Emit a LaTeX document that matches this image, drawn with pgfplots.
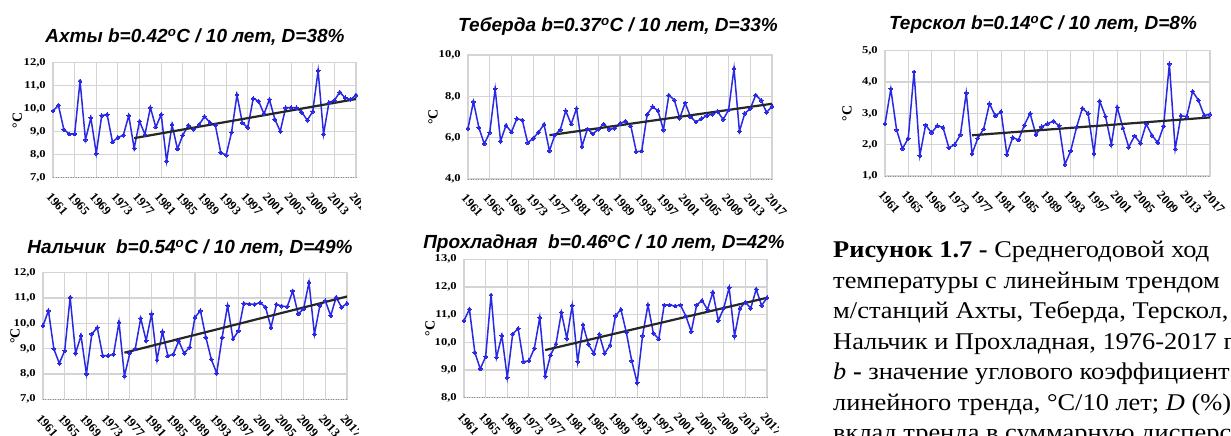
\documentclass[border=0pt]{standalone}
\usepackage{fontspec}
\setmainfont{Liberation Serif}
\newfontfamily\titlefont{Liberation Sans}
\usepackage{pgfplots}
\pgfplotsset{compat=1.18}

\definecolor{serblue}{RGB}{40,40,230}
\definecolor{gridgray}{RGB}{212,212,212}

\tikzset{baseline dots/.style={black!45, line width=0.9pt, dash pattern=on 1pt off 1.5pt}}

\pgfplotsset{
  panel/.style={
    scale only axis,
    xmin=1961, xmax=2017,
    xtick={1961,1965,...,2017},
    grid=major,
    major grid style={draw=gridgray, line width=1.1pt},
    axis line style={draw=gridgray, line width=1.1pt},
    major tick length=0pt,
    /pgf/number format/assume math mode=true,
    xticklabel style={font=\bfseries\fontsize{12.5}{12.5}\selectfont, xshift=-1pt, yshift=-14pt, rotate=-48, anchor=north west, inner sep=0pt, /pgf/number format/1000 sep={}},
    yticklabel style={font=\bfseries\fontsize{10.5}{10.5}\selectfont, inner sep=0pt, xshift=-7pt, xscale=1.2, /pgf/number format/.cd, fixed, fixed zerofill, precision=1, use comma},
    ylabel={°C},
    every axis y label/.style={font=\bfseries\fontsize{14}{14}\selectfont, rotate=90, anchor=center},
    clip=false,
  },
  series/.style={serblue, line width=1.5pt, mark=*, mark size=1.9pt, mark options={fill=serblue, draw=serblue, line width=0pt}},
  trend/.style={black!85, line width=2.2pt},
}

\newcommand{\ttl}{\titlefont\bfseries\itshape\fontsize{19}{19}\selectfont}

\begin{document}
\begin{tikzpicture}
\useasboundingbox (0,0) rectangle (1231pt,436pt);
\clip (0,0) rectangle (1231pt,436pt);
\fill[white] (0,0) rectangle (1231pt,436pt);

% ---------------- Ахты ----------------
\begin{scope}
\clip (0,205pt) rectangle (360pt,436pt);
\begin{axis}[panel, at={(53pt,258.3pt)}, anchor=south west, width=303pt, height=115pt,
  ymin=7, ymax=12, ytick={7,8,...,12},
  ylabel style={at={(axis description cs:-0.118,0.5)}}]
\draw[baseline dots] (rel axis cs:0,0) -- (rel axis cs:1,0);
\addplot[series] coordinates {
(1961,9.9) (1962,10.15) (1963,9.1) (1964,8.9) (1965,8.9) (1966,11.2) (1967,8.65) (1968,9.6)
(1969,8.05) (1970,9.7) (1971,9.75) (1972,8.55) (1973,8.75) (1974,8.85) (1975,9.7) (1976,8.28)
(1977,9.45) (1978,8.88) (1979,10.05) (1980,9.2) (1981,9.75) (1982,7.72) (1983,9.3) (1984,8.25)
(1985,8.85) (1986,9.28) (1987,9.1) (1988,9.3) (1989,9.66) (1990,9.4) (1991,9.28) (1992,8.1)
(1993,7.98) (1994,8.97) (1995,10.6) (1996,9.38) (1997,9.18) (1998,10.44) (1999,10.33) (2000,9.77)
(2001,10.4) (2002,9.54) (2003,9.02) (2004,10.04) (2005,10.05) (2006,10.04) (2007,9.84) (2008,9.5)
(2009,9.88) (2010,11.65) (2011,8.89) (2012,10.27) (2013,10.36) (2014,10.72) (2015,10.47) (2016,10.4)
(2017,10.59)};
\addplot[trend] coordinates {(1976,8.72) (2017,10.42)};
\end{axis}
\end{scope}
\node[font=\ttl] at (195pt,399pt) {Ахты b=0.42\textsuperscript{o}C / 10 лет, D=38\%};

% ---------------- Теберда ----------------
\begin{scope}
\clip (380pt,205pt) rectangle (800pt,436pt);
\begin{axis}[panel, at={(468pt,257pt)}, anchor=south west, width=304pt, height=124pt,
  ymin=4, ymax=10, ytick={4,6,8,10},
  ylabel style={at={(axis description cs:-0.115,0.5)}}]
\draw[baseline dots] (rel axis cs:0,0) -- (rel axis cs:1,0);
\addplot[series] coordinates {
(1961,6.45) (1962,7.74) (1963,6.49) (1964,5.7) (1965,6.25) (1966,8.36) (1967,5.83) (1968,6.6)
(1969,6.27) (1970,6.92) (1971,6.85) (1972,5.75) (1973,5.97) (1974,6.26) (1975,6.65) (1976,5.36)
(1977,6.13) (1978,6.38) (1979,7.3) (1980,6.66) (1981,7.41) (1982,5.58) (1983,6.42) (1984,6.18)
(1985,6.41) (1986,6.66) (1987,6.4) (1988,6.46) (1989,6.68) (1990,6.8) (1991,6.56) (1992,5.32)
(1993,5.35) (1994,7.12) (1995,7.5) (1996,7.3) (1997,6.38) (1998,8.06) (1999,7.82) (2000,6.94)
(2001,7.68) (2002,7.0) (2003,6.76) (2004,6.92) (2005,7.06) (2006,7.14) (2007,7.26) (2008,6.88)
(2009,7.34) (2010,9.35) (2011,6.31) (2012,7.18) (2013,7.4) (2014,8.06) (2015,7.81) (2016,7.22)
(2017,7.52)};
\addplot[trend] coordinates {(1976,6.12) (2017,7.64)};
\end{axis}
\end{scope}
\node[font=\ttl] at (618pt,409pt) {Теберда b=0.37\textsuperscript{o}C / 10 лет, D=33\%};

% ---------------- Терскол ----------------
\begin{scope}
\clip (800pt,205pt) rectangle (1231pt,436pt);
\begin{axis}[panel, at={(885pt,260pt)}, anchor=south west, width=325pt, height=125.3pt,
  ymin=1, ymax=5, ytick={1,2,...,5},
  ylabel style={at={(axis description cs:-0.117,0.5)}}]
\draw[baseline dots] (rel axis cs:0,0) -- (rel axis cs:1,0);
\addplot[series] coordinates {
(1961,2.66) (1962,3.78) (1963,2.47) (1964,1.87) (1965,2.2) (1966,4.32) (1967,1.65) (1968,2.63)
(1969,2.38) (1970,2.6) (1971,2.55) (1972,1.9) (1973,2.0) (1974,2.32) (1975,3.65) (1976,1.71)
(1977,2.21) (1978,2.5) (1979,3.31) (1980,2.92) (1981,3.05) (1982,1.69) (1983,2.23) (1984,2.15)
(1985,2.62) (1986,3.0) (1987,2.32) (1988,2.57) (1989,2.67) (1990,2.75) (1991,2.6) (1992,1.37)
(1993,1.8) (1994,2.55) (1995,3.16) (1996,3.0) (1997,1.72) (1998,3.39) (1999,2.9) (2000,2.0)
(2001,3.2) (2002,2.53) (2003,1.92) (2004,2.28) (2005,2.05) (2006,2.66) (2007,2.3) (2008,2.06)
(2009,2.59) (2010,4.58) (2011,1.86) (2012,2.92) (2013,2.9) (2014,3.7) (2015,3.42) (2016,2.93)
(2017,2.97)};
\addplot[trend] coordinates {(1976,2.30) (2017,2.87)};
\end{axis}
\end{scope}
\node[font=\ttl] at (1043pt,411pt) {Терскол b=0.14\textsuperscript{o}C / 10 лет, D=8\%};

% ---------------- Нальчик ----------------
\begin{scope}
\clip (0,0) rectangle (358pt,205pt);
\begin{axis}[panel, at={(43pt,36.7pt)}, anchor=south west, width=304pt, height=126.6pt,
  ymin=7, ymax=12, ytick={7,8,...,12},
  ylabel style={at={(axis description cs:-0.092,0.5)}}]
\draw[baseline dots] (rel axis cs:0,0) -- (rel axis cs:1,0);
\addplot[series] coordinates {
(1961,9.9) (1962,10.5) (1963,8.99) (1964,8.42) (1965,8.92) (1966,11.03) (1967,8.82) (1968,9.51)
(1969,8.0) (1970,9.58) (1971,9.83) (1972,8.72) (1973,8.72) (1974,8.78) (1975,10.04) (1976,7.92)
(1977,8.82) (1978,9.0) (1979,10.2) (1980,9.32) (1981,10.37) (1982,8.55) (1983,9.67) (1984,8.71)
(1985,8.78) (1986,9.3) (1987,8.82) (1988,9.05) (1989,10.24) (1990,10.5) (1991,9.45) (1992,8.58)
(1993,8.03) (1994,9.45) (1995,10.7) (1996,9.38) (1997,9.7) (1998,10.79) (1999,10.76) (2000,10.75)
(2001,10.82) (2002,10.63) (2003,9.84) (2004,10.75) (2005,10.68) (2006,10.66) (2007,11.28) (2008,10.37)
(2009,10.57) (2010,11.62) (2011,9.57) (2012,10.7) (2013,10.89) (2014,10.3) (2015,11.03) (2016,10.63)
(2017,10.79)};
\addplot[trend] coordinates {(1976,8.84) (2017,11.06)};
\end{axis}
\end{scope}
\node[font=\ttl] at (190pt,188pt) {Нальчик\ \ b=0.54\textsuperscript{o}C / 10 лет, D=49\%};

% ---------------- Прохладная ----------------
\begin{scope}
\clip (380pt,0) rectangle (778pt,205pt);
\begin{axis}[panel, at={(464pt,38.3pt)}, anchor=south west, width=303pt, height=138.4pt,
  ymin=8, ymax=13, ytick={8,9,...,13},
  ylabel style={at={(axis description cs:-0.112,0.5)}}]
\draw[baseline dots] (rel axis cs:0,0) -- (rel axis cs:1,0);
\addplot[series] coordinates {
(1961,10.78) (1962,11.2) (1963,9.64) (1964,9.04) (1965,9.48) (1966,11.71) (1967,9.45) (1968,10.24)
(1969,8.73) (1970,10.3) (1971,10.5) (1972,9.3) (1973,9.33) (1974,9.78) (1975,10.9) (1976,8.78)
(1977,9.54) (1978,9.94) (1979,11.08) (1980,10.14) (1981,11.33) (1982,9.3) (1983,10.63) (1984,9.93)
(1985,9.6) (1986,10.29) (1987,9.6) (1988,9.9) (1989,10.96) (1990,11.19) (1991,10.36) (1992,9.33)
(1993,8.54) (1994,10.24) (1995,11.35) (1996,10.33) (1997,10.12) (1998,11.35) (1999,11.35) (2000,11.31)
(2001,11.35) (2002,10.95) (2003,10.39) (2004,11.35) (2005,11.51) (2006,11.19) (2007,11.81) (2008,10.78)
(2009,11.23) (2010,11.98) (2011,10.23) (2012,11.23) (2013,11.45) (2014,11.23) (2015,11.92) (2016,11.33)
(2017,11.61)};
\addplot[trend] coordinates {(1976,9.72) (2017,11.61)};
\end{axis}
\end{scope}
\node[font=\ttl] at (604pt,192pt) {Прохладная\ \ b=0.46\textsuperscript{o}C / 10 лет, D=42\%};

% ---------------- caption ----------------
\begin{scope}[every node/.style={anchor=base west, inner sep=0pt, font=\fontsize{24}{24}\selectfont, xscale=1.1}]
\node at (833pt,178pt) {\textbf{Рисунок 1.7 -} Среднегодовой ход};
\node at (833pt,147.5pt) {температуры с линейным трендом};
\node at (833pt,117pt) {м/станций Ахты, Теберда, Терскол,};
\node at (833pt,86.5pt) {Нальчик и Прохладная, 1976-2017 гг.};
\node at (833pt,56pt) {\textit{b} \textbf{-} значение углового коэффициента};
\node at (833pt,25.5pt) {линейного тренда, °С/10 лет; \textit{D} (\%) -};
\node at (833pt,-5pt) {вклад тренда в суммарную дисперсию};
\end{scope}
\end{tikzpicture}
\end{document}
